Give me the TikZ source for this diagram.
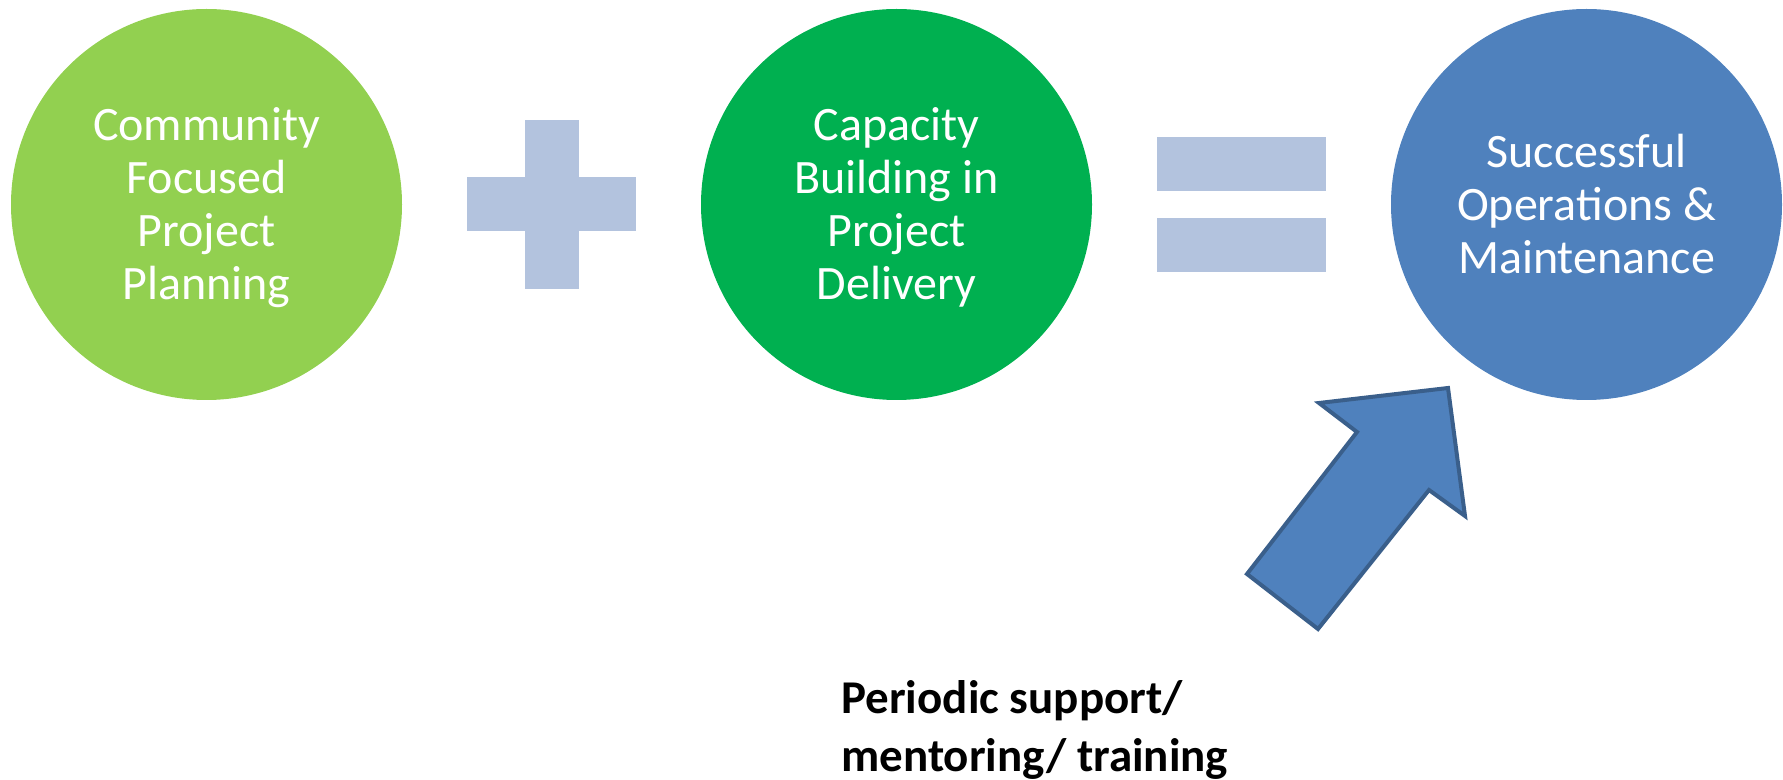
\documentclass[tikz,border=0pt]{standalone}
\usepackage{fontspec}
\setmainfont{Carlito}
\definecolor{planGreen}{HTML}{92D050}
\definecolor{buildGreen}{HTML}{00B050}
\definecolor{opsBlue}{HTML}{4F81BD}
\definecolor{opsEdge}{HTML}{3A5F8B}
\definecolor{signBlue}{HTML}{B3C3DE}
\def\ymid{204.5}
\def\dia{195.5pt}
\def\bw{27}
\tikzset{
  bubble/.style={circle, minimum size=\dia, inner sep=0pt, align=center, text=white,
    font=\fontsize{24}{26.5}\selectfont},
  sign/.style={fill=signBlue},
  bigarrow/.style={draw=opsEdge, line width=2pt, fill=opsBlue, line join=miter}
}
\begin{document}
\begin{tikzpicture}[x=0.5pt,y=-0.5pt]
 \useasboundingbox (0,0) rectangle (1783,780);

 \node[bubble, fill=planGreen, text depth=1pt]  (Plan)  at (206.5,\ymid) {Community\\Focused\\Project\\Planning};
 \node[bubble, fill=buildGreen, text depth=1pt] (Build) at (896.5,\ymid) {Capacity\\Building in\\Project\\Delivery};
 \node[bubble, fill=opsBlue]    (Ops)   at (1586.5,\ymid) {Successful\\Operations \&\\Maintenance};

 % plus
 \fill[sign] (467,\ymid-\bw) rectangle (636,\ymid+\bw);
 \fill[sign] (524.5,120) rectangle (578.5,289);

 % equals
 \fill[sign] (1157,137) rectangle (1326,191);
 \fill[sign] (1157,218) rectangle (1326,272);

 \draw[bigarrow] (1448,388) -- (1465,516) -- (1429,490) -- (1318,629)
   -- (1247,574) -- (1357,432) -- (1319,403) -- cycle;

 % base = baseline of the last line
 \node[anchor=base west, align=left, inner sep=0pt,
   font=\bfseries\fontsize{23.5}{29}\selectfont] (Support) at (841,771)
   {Periodic support/\\mentoring/ training};
\end{tikzpicture}
\end{document}
